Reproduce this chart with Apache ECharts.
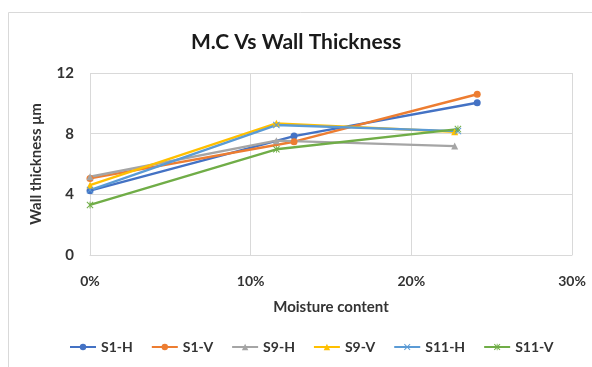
<!DOCTYPE html>
<html><head><meta charset="utf-8">
<script src="https://cdn.jsdelivr.net/npm/echarts@6/dist/echarts.min.js"></script>
<style>html,body{margin:0;padding:0;background:#fff}#c{width:592px;height:367px}</style>
</head><body><div id="c"></div>
<script>
const seriesNames = ['S1-H','S1-V','S9-H','S9-V','S11-H','S11-V'];
const s1h = [[0,4.24],[12.7,7.84],[24.1,10.04]];
const s1v = [[0,5.05],[12.7,7.47],[24.1,10.6]];
const s9h = [[0,5.16],[11.6,7.54],[22.7,7.18]];
const s9v = [[0,4.6],[11.6,8.68],[22.7,8.13]];
const s11h = [[0,4.28],[11.6,8.57],[22.9,8.17]];
const s11v = [[0,3.3],[11.6,6.97],[22.9,8.3]];
const xTicks = [0,10,20,30];
const yTicks = [0,4,8,12];

const colors = ['#4472C4','#ED7D31','#A5A5A5','#FFC000','#5B9BD5','#70AD47'];
const xPath = 'path://M1,0L5,4L9,0L10,1L6,5L10,9L9,10L5,6L1,10L0,9L4,5L0,1Z';
const starPath = 'path://M1,0L5,4L9,0L10,1L6,5L10,9L9,10L5,6L1,10L0,9L4,5L0,1Z M4.4,0L5.6,0L5.6,10L4.4,10Z';
const symbols = ['circle','circle','triangle','triangle',xPath,starPath];
const sizes = [7,7,7,7,7,7];
const datasets = [s1h,s1v,s9h,s9v,s11h,s11v];
const font = 'Lato, "Open Sans", sans-serif';

const chart = echarts.init(document.getElementById('c'));
chart.setOption({
  animation:false,
  color: colors,
  title:{text:'M.C Vs Wall Thickness',left:'center',top:27,
    textStyle:{fontFamily:font,fontSize:21,fontWeight:'bold',color:'#1a1a1a'}},
  graphic:[{type:'rect',shape:{x:8.5,y:12.5,width:600,height:400},
    style:{fill:'none',stroke:'#d9d9d9',lineWidth:1},silent:true}],
  grid:{left:90,right:20,top:73,bottom:112,containLabel:false},
  legend:{bottom:8,left:64,itemGap:18,itemWidth:26,itemHeight:8,
    textStyle:{fontFamily:font,fontSize:14,fontWeight:'bold',color:'#333'},
    data:seriesNames},
  xAxis:{type:'value',min:0,max:30,interval:10,
    name:'Moisture content',nameLocation:'middle',nameGap:45,
    nameTextStyle:{fontFamily:font,fontSize:15,fontWeight:'bold',color:'#333'},
    axisLine:{show:true,lineStyle:{color:'#d9d9d9'}},axisTick:{show:false},
    axisLabel:{formatter:v=>v+'%',margin:19,fontFamily:font,fontSize:14,fontWeight:'bold',color:'#333'},
    splitLine:{show:true,lineStyle:{color:'#d9d9d9'}}},
  yAxis:{type:'value',min:0,max:12,interval:4,
    name:'Wall thickness μm',nameLocation:'middle',nameGap:46,
    nameTextStyle:{fontFamily:font,fontSize:15,fontWeight:'bold',color:'#333'},
    axisLine:{show:false},axisTick:{show:false},
    axisLabel:{margin:16,fontFamily:font,fontSize:15,fontWeight:'bold',color:'#333'},
    splitLine:{show:true,lineStyle:{color:'#d9d9d9'}}},
  series: seriesNames.map((n,i)=>({
    name:n,type:'line',data:datasets[i],
    symbol:symbols[i],symbolSize:sizes[i],showSymbol:true,
    lineStyle:{width:2.4,color:colors[i]},
    itemStyle:{color:colors[i]}
  }))
});
</script></body></html>
